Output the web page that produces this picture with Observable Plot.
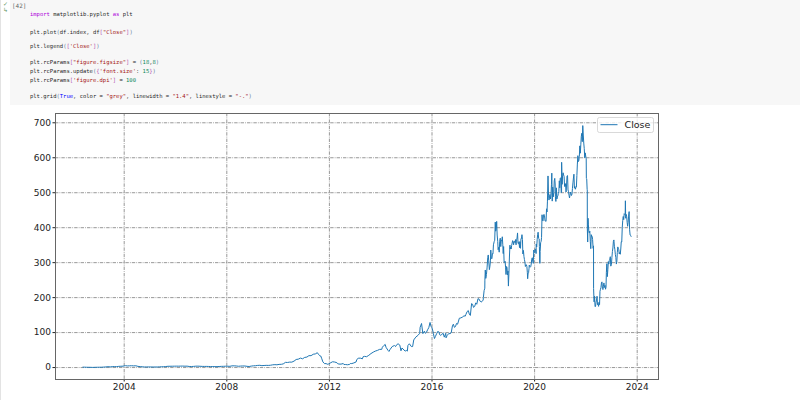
<!DOCTYPE html>
<html>
<head>
<meta charset="utf-8">
<script src="https://cdn.jsdelivr.net/npm/d3@7"></script>
<script src="https://cdn.jsdelivr.net/npm/@observablehq/plot@0.6"></script>
<style>
  html, body { margin: 0; padding: 0; background: #fff; }
  body { width: 800px; height: 400px; position: relative; overflow: hidden; font-family: "DejaVu Sans", sans-serif; }
  .leftbar { position: absolute; left: 0; top: 0; width: 1px; height: 400px; background: #e3e3e3; }
  .cell { position: absolute; left: 10px; top: 0; width: 790px; height: 105px; background: #f7f7f7; }
  .status { position: absolute; left: 12px; top: 2px; font: 6px "DejaVu Sans Mono", monospace; color: #666; }
  .check { position: absolute; left: 3px; top: 1px; font: 6px "DejaVu Sans", sans-serif; color: #6a9a6a; line-height: 6px; }
  .code { position: absolute; left: 30px; font: 5.5px "DejaVu Sans Mono", monospace; color: #2a2a2a; white-space: pre; line-height: 7px; }
  .kw { color: #af00db; } .st { color: #a31515; } .nu { color: #098658; } .bo { color: #0000ff; }
  .p1 { color: #5f7f9f; } .p2 { color: #b04fb0; }
  #chart { position: absolute; left: 0; top: 110px; }
</style>
</head>
<body>
<div class="leftbar"></div>
<div class="cell"></div>
<div class="check">✓<br>↳</div>
<div class="status">[42]</div>
<div class="code" style="top:10.5px"><span class="kw">import</span> matplotlib.pyplot <span class="kw">as</span> plt</div>
<div class="code" style="top:28.5px">plt.plot<span class="p1">(</span>df.index, df<span class="p2">[</span><span class="st">"Close"</span><span class="p2">]</span><span class="p1">)</span></div>
<div class="code" style="top:43px">plt.legend<span class="p1">(</span><span class="p2">[</span><span class="st">'Close'</span><span class="p2">]</span><span class="p1">)</span></div>
<div class="code" style="top:58.5px">plt.rcParams<span class="p2">[</span><span class="st">"figure.figsize"</span><span class="p2">]</span> = <span class="p1">(</span><span class="nu">18</span>,<span class="nu">8</span><span class="p1">)</span></div>
<div class="code" style="top:67.5px">plt.rcParams.update<span class="p1">(</span><span class="p2">{</span><span class="st">'font.size'</span>: <span class="nu">15</span><span class="p2">}</span><span class="p1">)</span></div>
<div class="code" style="top:76.5px">plt.rcParams<span class="p2">[</span><span class="st">'figure.dpi'</span><span class="p2">]</span> = <span class="nu">100</span></div>
<div class="code" style="top:93px">plt.grid<span class="p1">(</span><span class="bo">True</span>, color = <span class="st">"grey"</span>, linewidth = <span class="st">"1.4"</span>, linestyle = <span class="st">"-."</span><span class="p1">)</span></div>
<div id="chart"></div>
<script>
// ---- data ----
const seriesName = "Close";
const yTicks = [0, 100, 200, 300, 400, 500, 600, 700];
const xTickYears = [2004, 2008, 2012, 2016, 2020, 2024];

const close2002to2009 = [
  ["2002-05-23",1.20],["2002-06-14",1.10],["2002-07-15",0.85],["2002-08-15",0.75],["2002-09-16",0.62],["2002-10-10",0.40],["2002-11-15",0.70],["2002-12-16",0.82],
  ["2003-01-15",0.90],["2003-02-14",1.00],["2003-03-14",1.35],["2003-04-15",1.75],["2003-05-15",2.45],["2003-06-16",1.85],["2003-07-15",2.60],["2003-08-15",2.90],["2003-09-15",2.45],["2003-10-15",3.40],["2003-11-14",3.70],["2003-12-15",3.95],
  ["2004-01-20",5.40],["2004-02-13",4.60],["2004-03-15",4.90],["2004-04-15",5.20],["2004-05-14",4.80],["2004-06-15",5.10],["2004-07-15",3.40],["2004-08-16",2.60],["2004-09-15",2.30],["2004-10-15",1.60],["2004-11-15",1.80],["2004-12-15",1.75],
  ["2005-01-14",1.70],["2005-02-15",1.55],["2005-03-15",1.60],["2005-04-15",1.60],["2005-05-16",2.00],["2005-06-15",2.30],["2005-07-15",2.40],["2005-08-15",2.90],["2005-09-15",3.60],["2005-10-14",3.70],["2005-11-15",3.80],["2005-12-15",3.90],
  ["2006-01-13",4.00],["2006-02-15",3.90],["2006-03-15",4.10],["2006-04-13",4.20],["2006-05-15",3.90],["2006-06-15",4.00],["2006-07-14",3.10],["2006-08-15",3.00],["2006-09-15",3.30],["2006-10-16",3.90],["2006-11-15",4.00],["2006-12-15",3.70],
  ["2007-01-16",3.30],["2007-02-15",3.20],["2007-03-15",3.30],["2007-04-16",3.10],["2007-05-15",2.90],["2007-06-15",2.80],["2007-07-16",2.60],["2007-08-15",2.60],["2007-09-14",3.00],["2007-10-15",3.40],["2007-11-15",3.50],["2007-12-14",3.80],
  ["2008-01-15",3.70],["2008-02-15",3.60],["2008-03-14",4.80],["2008-04-15",4.90],["2008-05-15",4.50],["2008-06-16",3.70],["2008-07-15",4.20],["2008-08-15",4.50],["2008-09-15",4.40],["2008-10-15",3.50],["2008-11-14",3.00],["2008-12-15",4.20],
  ["2009-01-15",5.00],["2009-02-13",5.20],["2009-03-16",6.10],["2009-04-15",6.40],["2009-05-15",5.40],["2009-06-15",5.90],["2009-07-15",6.30],["2009-08-14",6.10],["2009-09-15",6.60],["2009-10-15",7.80],["2009-11-16",8.30],["2009-12-15",7.90]
];

const close2010to2017 = [
  ["2010-01-15",9.0],["2010-02-16",9.3],["2010-03-15",10.5],["2010-04-15",14.8],["2010-05-14",14.5],["2010-06-15",15.6],["2010-07-15",15.5],["2010-08-16",18.5],["2010-09-15",23.0],["2010-10-15",24.0],["2010-11-15",27.0],["2010-12-15",25.0],
  ["2011-01-14",29],["2011-02-15",30],["2011-03-15",34],["2011-04-15",34],["2011-05-16",38],["2011-06-15",39],["2011-07-13",42.5],["2011-07-29",38],["2011-08-15",34],["2011-08-31",33],["2011-09-15",25],["2011-09-30",16.2],["2011-10-25",11.0],["2011-11-15",11.5],["2011-11-30",9.5],["2011-12-15",9.8],
  ["2012-01-13",13],["2012-02-15",16.5],["2012-03-15",15.8],["2012-04-16",14],["2012-04-25",11.4],["2012-05-15",10],["2012-06-15",9.8],["2012-07-16",11.5],["2012-07-26",8.6],["2012-08-15",8.7],["2012-09-14",8.0],["2012-10-15",9.0],["2012-10-25",11.5],["2012-11-15",11.4],["2012-12-14",13.2],
  ["2013-01-15",16],["2013-01-25",23],["2013-02-15",26.5],["2013-03-15",27],["2013-04-15",25],["2013-04-25",31],["2013-05-15",32],["2013-06-14",31],["2013-07-15",35],["2013-08-15",40],["2013-09-16",44],["2013-10-15",47],["2013-11-15",49],["2013-12-16",52],
  ["2014-01-15",52],["2014-01-24",58],["2014-02-14",63],["2014-03-06",66],["2014-03-17",58],["2014-04-15",49],["2014-04-28",46],["2014-05-15",52],["2014-06-13",60],["2014-07-15",63],["2014-07-31",60],["2014-08-15",65],["2014-09-05",68],["2014-09-30",64],["2014-10-16",48],["2014-10-31",56],["2014-11-14",53],["2014-12-15",47],["2014-12-31",49],
  ["2015-01-15",47],["2015-01-23",63],["2015-02-13",68],["2015-03-13",60],["2015-03-31",60],["2015-04-16",79],["2015-05-15",87],["2015-06-15",92],["2015-07-10",98],["2015-07-16",115],["2015-08-05",126],["2015-08-24",97],["2015-09-15",104],["2015-09-29",98],["2015-10-15",101],["2015-10-30",108],["2015-11-16",114],["2015-12-04",129],["2015-12-18",118],["2015-12-31",114],
  ["2016-01-14",104],["2016-01-21",97],["2016-02-05",83],["2016-02-19",89],["2016-03-07",97],["2016-03-21",103],["2016-04-08",102],["2016-04-19",94],["2016-05-05",92],["2016-05-20",95],["2016-06-08",98],["2016-06-24",87],["2016-07-15",98],["2016-07-19",85],["2016-08-05",92],["2016-08-25",97],["2016-09-15",97],["2016-09-30",99],["2016-10-18",119],["2016-10-31",124],["2016-11-15",115],["2016-11-30",117],["2016-12-15",126],["2016-12-30",124],
  ["2017-01-13",133],["2017-01-24",141],["2017-02-15",142],["2017-03-15",145],["2017-03-31",148],["2017-04-18",147],["2017-04-28",152],["2017-05-15",160],["2017-06-01",163],["2017-06-15",153],["2017-06-30",149],["2017-07-18",183],["2017-07-31",181],["2017-08-15",172],["2017-08-31",175],["2017-09-15",185],["2017-09-29",181],["2017-10-17",197],["2017-10-31",196],["2017-11-15",190],["2017-11-30",187],["2017-12-15",190],["2017-12-29",192]
];

const close2018to2023 = [
  ["2018-01-02",201],["2018-01-12",220],["2018-01-22",227],["2018-01-23",250],["2018-01-29",279],["2018-02-05",255],["2018-02-14",266],["2018-02-23",285],["2018-03-05",315],["2018-03-12",322],["2018-03-19",305],["2018-03-28",280],["2018-04-05",290],["2018-04-13",307],["2018-04-17",336],["2018-04-25",312],["2018-05-03",311],["2018-05-11",326],["2018-05-18",325],["2018-05-25",351],["2018-06-04",360],["2018-06-12",364],["2018-06-20",416],["2018-06-26",390],["2018-07-05",398],["2018-07-10",418],["2018-07-17",379],["2018-07-25",361],["2018-07-31",337],["2018-08-08",344],["2018-08-15",330],["2018-08-22",361],["2018-08-30",370],["2018-09-06",346],["2018-09-14",364],["2018-09-21",362],["2018-09-28",374],["2018-10-05",351],["2018-10-11",326],["2018-10-17",346],["2018-10-24",301],["2018-10-31",301],["2018-11-07",304],["2018-11-14",285],["2018-11-20",266],["2018-11-28",289],["2018-12-04",286],["2018-12-11",265],["2018-12-18",276],["2018-12-24",233],["2018-12-31",268],
  ["2019-01-08",319],["2019-01-15",350],["2019-01-18",339],["2019-01-25",344],["2019-02-01",339],["2019-02-08",349],["2019-02-15",356],["2019-02-22",363],["2019-03-01",360],["2019-03-08",351],["2019-03-15",361],["2019-03-22",361],["2019-03-29",357],["2019-04-05",366],["2019-04-12",351],["2019-04-17",366],["2019-04-26",370],["2019-05-03",385],["2019-05-10",355],["2019-05-17",354],["2019-05-24",360],["2019-05-31",343],["2019-06-07",360],["2019-06-14",341],["2019-06-21",369],["2019-06-28",369],["2019-07-05",380],["2019-07-12",366],["2019-07-18",325],["2019-07-26",335],["2019-08-02",318],["2019-08-09",309],["2019-08-16",302],["2019-08-23",289],["2019-08-30",293],["2019-09-06",294],["2019-09-13",289],["2019-09-20",271],["2019-09-24",254],["2019-09-30",268],["2019-10-07",271],["2019-10-14",284],["2019-10-17",293],["2019-10-24",289],["2019-10-31",287],["2019-11-07",289],["2019-11-14",296],["2019-11-21",310],["2019-11-29",314],["2019-12-06",303],["2019-12-13",298],["2019-12-20",336],["2019-12-27",330],
  ["2020-01-03",329],["2020-01-10",339],["2020-01-17",338],["2020-01-22",326],["2020-01-24",353],["2020-01-31",345],["2020-02-07",367],["2020-02-14",381],["2020-02-20",387],["2020-02-28",369],["2020-03-06",368],["2020-03-09",346],["2020-03-16",298],["2020-03-20",332],["2020-03-27",357],["2020-04-03",361],["2020-04-09",372],["2020-04-16",437],["2020-04-22",421],["2020-04-30",419],["2020-05-07",436],["2020-05-14",438],["2020-05-21",434],["2020-05-29",419],["2020-06-05",419],["2020-06-12",418],["2020-06-19",454],["2020-06-26",445],["2020-07-02",476],["2020-07-10",548],["2020-07-13",525],["2020-07-17",493],["2020-07-24",479],["2020-07-31",488],["2020-08-07",495],["2020-08-14",482],["2020-08-21",492],["2020-08-28",523],["2020-09-02",556],["2020-09-08",476],["2020-09-15",516],["2020-09-22",488],["2020-09-30",500],["2020-10-07",534],["2020-10-14",541],["2020-10-20",525],["2020-10-23",489],["2020-10-30",475],["2020-11-06",514],["2020-11-13",482],["2020-11-20",488],["2020-11-27",491],["2020-12-04",498],["2020-12-11",503],["2020-12-18",534],["2020-12-24",514],["2020-12-31",541],
  ["2021-01-08",543],["2021-01-14",500],["2021-01-19",501],["2021-01-20",587],["2021-01-27",524],["2021-02-03",550],["2021-02-10",557],["2021-02-17",551],["2021-02-24",546],["2021-03-03",518],["2021-03-10",518],["2021-03-17",526],["2021-03-24",502],["2021-03-31",522],["2021-04-07",548],["2021-04-14",549],["2021-04-21",508],["2021-04-28",503],["2021-05-05",493],["2021-05-12",485],["2021-05-19",493],["2021-05-26",502],["2021-06-02",497],["2021-06-09",492],["2021-06-16",496],["2021-06-23",512],["2021-06-30",528],["2021-07-07",542],["2021-07-14",553],["2021-07-21",513],["2021-07-28",518],["2021-08-04",510],["2021-08-11",515],["2021-08-18",516],["2021-08-25",549],["2021-09-01",582],["2021-09-08",606],["2021-09-15",589],["2021-09-22",592],["2021-09-29",604],["2021-10-06",634],["2021-10-13",613],["2021-10-20",637],["2021-10-27",661],["2021-11-03",670],["2021-11-10",646],["2021-11-17",692],["2021-11-24",665],["2021-12-01",642],["2021-12-08",626],["2021-12-15",600],["2021-12-22",614],["2021-12-31",602],
  ["2022-01-05",597],["2022-01-07",541],["2022-01-12",540],["2022-01-18",510],["2022-01-20",508],["2022-01-21",397],["2022-01-26",359],["2022-01-31",427],["2022-02-04",410],["2022-02-11",391],["2022-02-18",385],["2022-02-25",390],["2022-03-04",361],["2022-03-11",340],["2022-03-18",380],["2022-03-25",374],["2022-03-31",375],["2022-04-06",366],["2022-04-13",341],["2022-04-19",348],["2022-04-20",226],["2022-04-27",188],["2022-05-04",204],["2022-05-11",174],["2022-05-18",175],["2022-05-25",187],["2022-06-01",193],["2022-06-08",204],["2022-06-15",180],["2022-06-22",183],["2022-06-30",175],["2022-07-07",187],["2022-07-14",180],["2022-07-20",218],["2022-07-27",224],["2022-08-03",229],["2022-08-10",242],["2022-08-17",245],["2022-08-24",226],["2022-08-31",223],["2022-09-07",232],["2022-09-14",242],["2022-09-21",229],["2022-09-30",235],["2022-10-07",224],["2022-10-14",230],["2022-10-19",272],["2022-10-26",297],["2022-11-02",260],["2022-11-09",280],["2022-11-16",303],["2022-11-23",296],["2022-11-30",306],["2022-12-07",310],["2022-12-14",317],["2022-12-21",290],["2022-12-30",295],
  ["2023-01-06",315],["2023-01-13",332],["2023-01-20",342],["2023-01-27",361],["2023-02-03",365],["2023-02-10",347],["2023-02-17",337],["2023-02-24",323],["2023-03-03",315],["2023-03-10",296],["2023-03-17",303],["2023-03-24",329],["2023-03-31",345],["2023-04-07",339],["2023-04-14",338],["2023-04-20",325],["2023-04-28",329],["2023-05-05",324],["2023-05-12",339],["2023-05-19",360],["2023-05-26",359],["2023-06-02",400],["2023-06-09",420],["2023-06-16",432],["2023-06-23",423],["2023-06-30",440],["2023-07-07",438],["2023-07-14",441],["2023-07-17",477],["2023-07-21",427],["2023-07-28",438],["2023-08-04",432],["2023-08-11",415],["2023-08-18",404],["2023-08-25",416],["2023-08-31",433],["2023-09-08",446],["2023-09-15",394],["2023-09-22",379],["2023-09-29",378],["2023-10-06",375]
];

// ---- build table ----
const parse = d3.utcParse("%Y-%m-%d");
const data = [...close2002to2009, ...close2010to2017, ...close2018to2023]
  .map(([d, v]) => ({date: parse(d), close: v}));

// matplotlib-like 5% margins
const [x0, x1] = d3.extent(data, d => +d.date);
const xPad = (x1 - x0) * 0.05;
const [y0, y1] = d3.extent(data, d => d.close);
const yPad = (y1 - y0) * 0.05;
const xTicks = xTickYears.map(y => new Date(Date.UTC(y, 0, 1)));

const grid = {stroke: "#858585", strokeWidth: 0.85, strokeDasharray: "3.4,1.1,0.8,1.1"};

const chart = Plot.plot({
  width: 800,
  height: 290,
  marginLeft: 55,
  marginRight: 142,
  marginTop: 3,
  marginBottom: 21,
  style: {fontFamily: "DejaVu Sans, sans-serif", fontSize: "9px", color: "#222", background: "transparent"},
  x: {type: "utc", domain: [new Date(x0 - xPad), new Date(x1 + xPad)], ticks: xTicks, tickFormat: d3.utcFormat("%Y"), tickSize: 2.5, tickPadding: 2, label: null},
  y: {domain: [y0 - yPad, y1 + yPad], ticks: yTicks, tickSize: 2.5, tickPadding: 2, label: null},
  marks: [
    Plot.ruleY(yTicks, grid),
    Plot.ruleX(xTicks, grid),
    Plot.line(data, {x: "date", y: "close", stroke: "#1f77b4", strokeWidth: 1}),
    Plot.frame({stroke: "#666", strokeWidth: 1})
  ]
});
document.getElementById("chart").appendChild(chart);

// legend (matplotlib-style box, upper right inside the axes)
const svg = d3.select(chart);
const lg = svg.append("g").attr("transform", "translate(597.5,7.5)");
lg.append("rect").attr("width", 56).attr("height", 15).attr("rx", 2)
  .attr("fill", "#fff").attr("fill-opacity", 0.8).attr("stroke", "#cfcfcf").attr("stroke-width", 0.8);
lg.append("line").attr("x1", 3).attr("x2", 20).attr("y1", 7.2).attr("y2", 7.2)
  .attr("stroke", "#1f77b4").attr("stroke-width", 1);
lg.append("text").attr("x", 27).attr("y", 7.5).attr("dy", "0.35em")
  .attr("text-anchor", "start")
  .attr("font-family", "DejaVu Sans, sans-serif").attr("font-size", 9.5).attr("fill", "#222")
  .text(seriesName);
</script>
</body>
</html>
